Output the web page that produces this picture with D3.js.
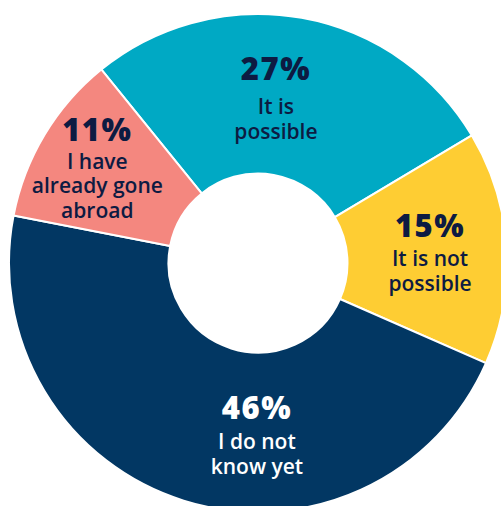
<!DOCTYPE html>
<html>
<head>
<meta charset="utf-8">
<script src="https://cdn.jsdelivr.net/npm/d3@7/dist/d3.min.js"></script>
<style>
  html, body { margin: 0; padding: 0; background: #ffffff; overflow: hidden; }
  svg { display: block; }
  text { font-family: "Open Sans", "Noto Sans", sans-serif; }
</style>
</head>
<body>
<svg id="chart" width="501" height="506"></svg>
<script>
// Survey answers, in clockwise order from the upper-left edge of "It is possible"
const categories = ["It is possible", "It is not possible", "I do not know yet", "I have already gone abroad"];
const values = [27, 15, 46, 11];
const labelLines = [
  ["It is", "possible"],
  ["It is not", "possible"],
  ["I do not", "know yet"],
  ["I have", "already gone", "abroad"]
];
const colors = ["#00a9c4", "#fecd33", "#023763", "#f4877f"];
const textColors = ["#0d1b42", "#0d1b42", "#ffffff", "#0d1b42"];

// Where each label block sits: polar offset (degrees clockwise from 12 o'clock, radius)
// of the percentage's baseline, plus the gap down to the first caption line.
const labelLayout = [
  { angle: 5.6, radius: 184, gap: 34 },
  { angle: 81.4, radius: 174, gap: 29.5 },
  { angle: 180.4, radius: 156.5, gap: 29.5 },
  { angle: -52.7, radius: 202, gap: 28 }
];

const cx = 258, cy = 263;
const outerR = 249, innerR = 89.5;
const startDeg = -39;
const lineStep = 24.8;

const svg = d3.select("#chart");
const g = svg.append("g").attr("transform", `translate(${cx},${cy})`);

const pie = d3.pie()
  .sort(null)
  .value(d => d)
  .startAngle(startDeg * Math.PI / 180)
  .endAngle(startDeg * Math.PI / 180 + 2 * Math.PI);

const arc = d3.arc().innerRadius(innerR).outerRadius(outerR);
const arcs = pie(values);

g.selectAll("path.slice")
  .data(arcs)
  .join("path")
  .attr("class", "slice")
  .attr("d", arc)
  .attr("fill", (d, i) => colors[i])
  .attr("stroke", "#ffffff")
  .attr("stroke-width", 2)
  .attr("stroke-linejoin", "round");

// One text block per slice: bold percentage, then the caption lines beneath it
const labels = g.selectAll("text.label")
  .data(arcs)
  .join("text")
  .attr("class", "label")
  .attr("text-anchor", "middle")
  .attr("fill", (d, i) => textColors[i])
  .attr("transform", (d, i) => {
    const a = labelLayout[i].angle * Math.PI / 180;
    const r = labelLayout[i].radius;
    return `translate(${r * Math.sin(a)},${-r * Math.cos(a)})`;
  });

labels.append("tspan")
  .attr("x", 0)
  .attr("y", 0)
  .attr("font-size", 31)
  .attr("font-weight", 800)
  .attr("letter-spacing", 1.5)
  .text(d => d.data + "%");

labels.each(function(d, i) {
  const t = d3.select(this);
  labelLines[i].forEach((line, k) => {
    t.append("tspan")
      .attr("x", 0)
      .attr("y", labelLayout[i].gap + k * lineStep)
      .attr("font-size", 21)
      .attr("font-weight", 600)
      .text(line);
  });
});
</script>
</body>
</html>
